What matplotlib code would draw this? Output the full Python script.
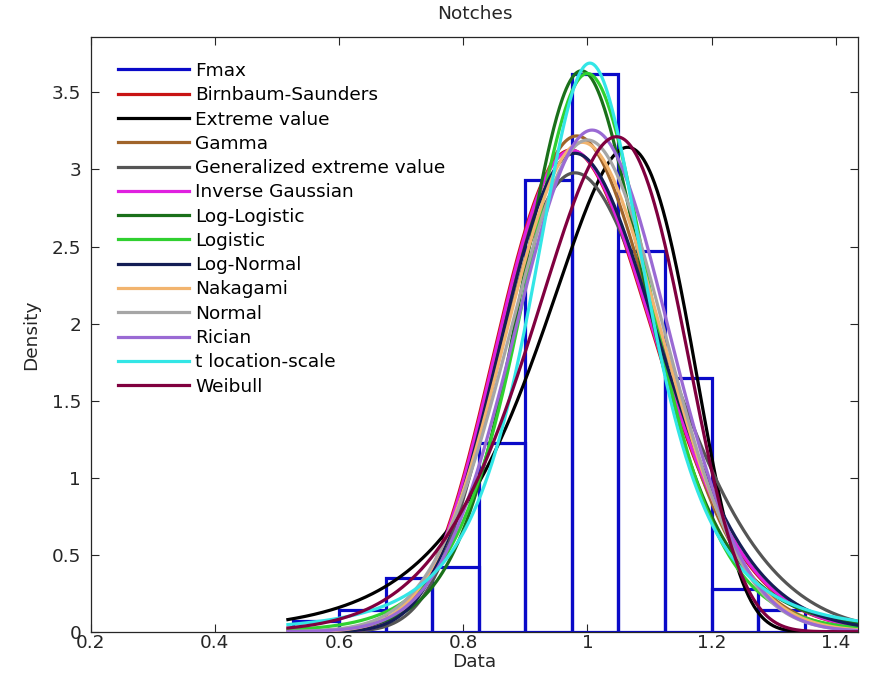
import math
import numpy as np
import matplotlib
matplotlib.use("Agg")
import matplotlib.pyplot as plt
from matplotlib.lines import Line2D

plt.rcParams['font.family'] = ['DejaVu Sans']

# Fmax histogram, density scale
bin_centers = [0.5625, 0.6375, 0.7125, 0.7875, 0.8625, 0.9375,
               1.0125, 1.0875, 1.1625, 1.2375, 1.3125]
bin_width = 0.075
density = [0.07, 0.14, 0.347, 0.42, 1.225, 2.93, 3.62, 2.47, 1.645, 0.28, 0.14]

# fitted distributions (legend order) and their parameters
fit_names = ['Birnbaum-Saunders', 'Extreme value', 'Gamma',
             'Generalized extreme value', 'Inverse Gaussian', 'Log-Logistic',
             'Logistic', 'Log-Normal', 'Nakagami', 'Normal', 'Rician',
             't location-scale', 'Weibull']
fit_colors = ['#c81414', '#000000', '#a0642a', '#555555', '#e020e0',
              '#1a701a', '#30d030', '#141e55', '#f2b46e', '#a6a6a6',
              '#9a6ad4', '#33e6e6', '#80003f']

bs_params = [0.99, 0.13]            # beta, gamma
ev_params = [1.065, 0.117]          # mu, sigma
gamma_params = [64.0, 0.0156]       # shape, scale
gev_params = [-0.15, 0.125, 0.96]   # k, sigma, mu
ig_params = [1.0, 59.0]             # mu, lambda
loglogistic_params = [0.0, 0.069]   # mu, sigma (log scale)
logistic_params = [1.0, 0.069]      # mu, s
lognormal_params = [-0.0033, 0.130] # mu, sigma (log scale)
nakagami_params = [16.0, 1.015]     # m, omega
normal_params = [1.0, 0.125]        # mu, sigma
rician_params = [1.0, 0.123]        # nu, sigma
tls_params = [1.004, 0.0996, 3.0]   # mu, sigma, nu
weibull_params = [1.06, 9.2]        # scale, shape

x_range = [0.515, 1.44]


def pdf_bs(x, beta, g):
    a = np.sqrt(x / beta)
    b = np.sqrt(beta / x)
    z = (a - b) / g
    return (a + b) / (2 * g * x) * np.exp(-z ** 2 / 2) / np.sqrt(2 * np.pi)


def pdf_ev(x, mu, s):
    z = (x - mu) / s
    return np.exp(z - np.exp(z)) / s


def pdf_gamma(x, a, b):
    return np.exp((a - 1) * np.log(x) - x / b - math.lgamma(a) - a * math.log(b))


def pdf_gev(x, k, s, mu):
    z = (x - mu) / s
    base = 1 + k * z
    out = np.zeros_like(x)
    ok = base > 0
    t = base[ok] ** (-1 / k)
    out[ok] = t ** (k + 1) * np.exp(-t) / s
    return out


def pdf_ig(x, mu, lam):
    return np.sqrt(lam / (2 * np.pi * x ** 3)) * np.exp(-lam * (x - mu) ** 2 / (2 * mu ** 2 * x))


def pdf_loglogistic(x, mu, s):
    z = (np.log(x) - mu) / s
    return np.exp(z) / (1 + np.exp(z)) ** 2 / (s * x)


def pdf_logistic(x, mu, s):
    z = (x - mu) / s
    return np.exp(z) / (1 + np.exp(z)) ** 2 / s


def pdf_lognormal(x, mu, s):
    return np.exp(-(np.log(x) - mu) ** 2 / (2 * s ** 2)) / (x * s * np.sqrt(2 * np.pi))


def pdf_nakagami(x, m, om):
    logc = math.log(2) + m * math.log(m) - math.lgamma(m) - m * math.log(om)
    return np.exp(logc + (2 * m - 1) * np.log(x) - m * x ** 2 / om)


def pdf_normal(x, mu, s):
    return np.exp(-(x - mu) ** 2 / (2 * s ** 2)) / (s * np.sqrt(2 * np.pi))


def pdf_rician(x, nu, s):
    return x / s ** 2 * np.exp(-(x ** 2 + nu ** 2) / (2 * s ** 2)) * np.i0(x * nu / s ** 2)


def pdf_tls(x, mu, s, nu):
    z = (x - mu) / s
    c = math.exp(math.lgamma((nu + 1) / 2) - math.lgamma(nu / 2)) / (math.sqrt(nu * math.pi) * s)
    return c * (1 + z ** 2 / nu) ** (-(nu + 1) / 2)


def pdf_weibull(x, lam, k):
    return (k / lam) * (x / lam) ** (k - 1) * np.exp(-(x / lam) ** k)


fits = [(pdf_bs, bs_params), (pdf_ev, ev_params), (pdf_gamma, gamma_params),
        (pdf_gev, gev_params), (pdf_ig, ig_params),
        (pdf_loglogistic, loglogistic_params), (pdf_logistic, logistic_params),
        (pdf_lognormal, lognormal_params), (pdf_nakagami, nakagami_params),
        (pdf_normal, normal_params), (pdf_rician, rician_params),
        (pdf_tls, tls_params), (pdf_weibull, weibull_params)]

fig = plt.figure(figsize=(8.75, 6.91), dpi=100)
ax = fig.add_axes([0.1037, 0.0858, 0.877, 0.8607])

hist_color = '#0a0ac8'
ax.bar(bin_centers, density, width=bin_width, fill=False,
       edgecolor=hist_color, linewidth=2.3, zorder=2)

xs = np.linspace(x_range[0], x_range[1], 600)
handles = [Line2D([], [], color=hist_color, lw=2.3, label='Fmax')]
for (fn, params), name, col in zip(fits, fit_names, fit_colors):
    ax.plot(xs, fn(xs, *params), color=col, lw=2.3, zorder=3,
            solid_capstyle='butt')
    handles.append(Line2D([], [], color=col, lw=2.3, label=name))

fs = 13.3
ink = '#262626'
ax.set_xlim(0.2, 1.436)
ax.set_ylim(0, 3.86)
ax.set_xticks([0.2, 0.4, 0.6, 0.8, 1.0, 1.2, 1.4])
ax.set_xticklabels(['0.2', '0.4', '0.6', '0.8', '1', '1.2', '1.4'])
ax.set_yticks([0, 0.5, 1, 1.5, 2, 2.5, 3, 3.5])
ax.set_yticklabels(['0', '0.5', '1', '1.5', '2', '2.5', '3', '3.5'])
ax.tick_params(direction='in', top=True, right=True, length=6,
               width=0.8, labelsize=fs, colors=ink)
ax.tick_params(axis='x', pad=1.5)
ax.tick_params(axis='y', pad=7)
for sp in ax.spines.values():
    sp.set_linewidth(0.9)
    sp.set_color(ink)

ax.set_title('Notches', fontsize=fs, color=ink, pad=13)
ax.set_xlabel('Data', fontsize=fs, color=ink, labelpad=1)
ax.set_ylabel('Density', fontsize=fs, color=ink, labelpad=8)

ax.legend(handles=handles, loc='upper left', bbox_to_anchor=(0.036, 0.958),
          frameon=False, fontsize=fs, handlelength=3.8, handletextpad=0.37,
          labelspacing=0.34, borderpad=0, borderaxespad=0)

fig.savefig('out.png', dpi=100)
